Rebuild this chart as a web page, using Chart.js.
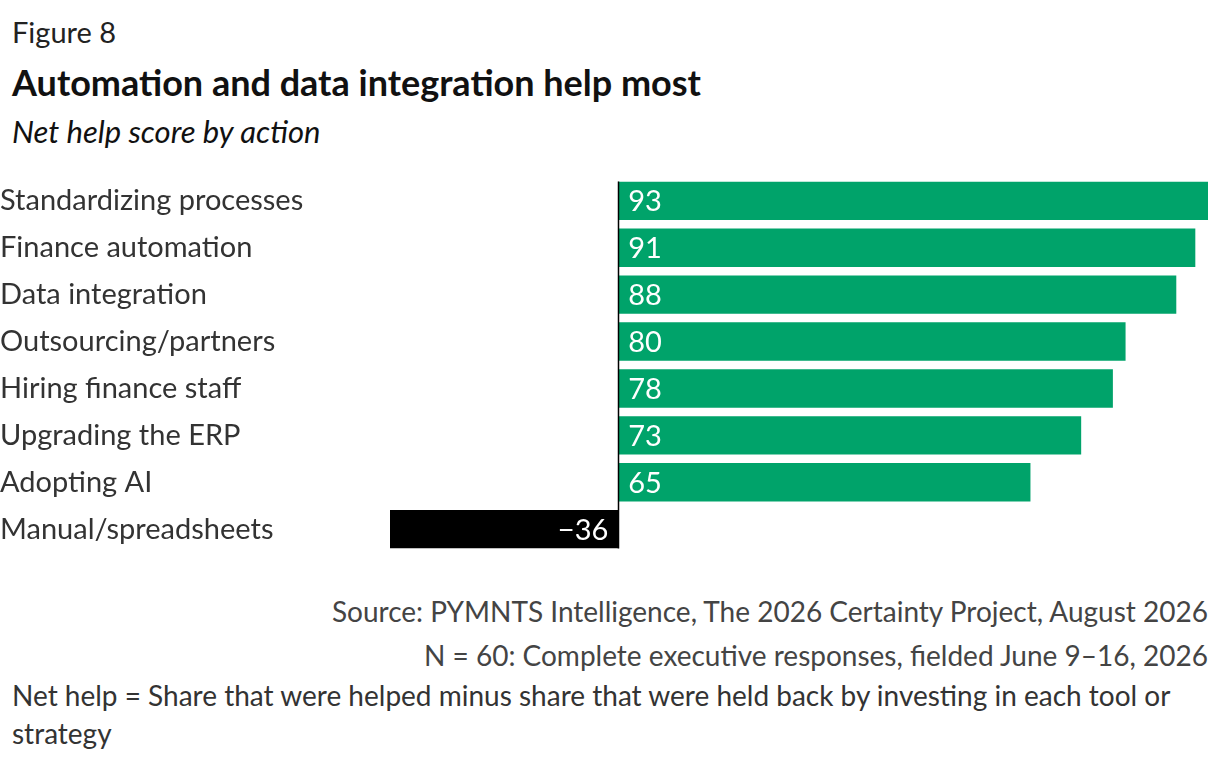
<!DOCTYPE html>
<html>
<head>
<meta charset="utf-8">
<script src="https://cdn.jsdelivr.net/npm/chart.js@4"></script>
<style>
  body { margin: 0; width: 1220px; height: 762px; background: #fff; font-family: Lato, sans-serif; color: #111; position: relative; overflow: hidden; }
  .t { position: absolute; left: 12px; white-space: nowrap; }
  #fig { top: 14px; font-size: 29px; color: #222; }
  #title { top: 60px; font-size: 36px; font-weight: bold; }
  #sub { top: 112px; font-size: 31px; font-style: italic; }
  #chartBox { position: absolute; left: 0; top: 160px; width: 1220px; height: 410px; }
  .r { position: absolute; right: 12px; font-size: 28px; color: #444; white-space: nowrap; }
  .n { position: absolute; left: 12px; font-size: 28px; color: #333; line-height: 38px; width: 1180px; }
</style>
</head>
<body>
<div class="t" id="fig">Figure 8</div>
<div class="t" id="title">Automation and data integration help most</div>
<div class="t" id="sub">Net help score by action</div>
<div id="chartBox"><canvas id="chart"></canvas></div>
<div class="r" style="top:594px">Source: PYMNTS Intelligence, The 2026 Certainty Project, August 2026</div>
<div class="r" style="top:638px">N = 60: Complete executive responses, fielded June 9–16, 2026</div>
<div class="n" style="top:676px">Net help = Share that were helped minus share that were held back by investing in each tool or strategy</div>

<script>
const categories = ['Standardizing processes', 'Finance automation', 'Data integration', 'Outsourcing/partners',
  'Hiring finance staff', 'Upgrading the ERP', 'Adopting AI', 'Manual/spreadsheets'];
const netHelp = [93, 91, 88, 80, 78, 73, 65, -36];

const zeroLine = {
  id: 'zeroLine',
  afterDatasetsDraw(chart) {
    const { ctx, chartArea, scales } = chart;
    const x = Math.round(scales.x.getPixelForValue(0)) + 0.5;
    ctx.save();
    ctx.strokeStyle = '#000';
    ctx.lineWidth = 1.5;
    ctx.beginPath();
    ctx.moveTo(x, chartArea.top + 4);
    ctx.lineTo(x, chartArea.bottom - 4);
    ctx.stroke();
    ctx.restore();
  }
};

const valueLabels = {
  id: 'valueLabels',
  afterDatasetsDraw(chart) {
    const { ctx } = chart;
    const meta = chart.getDatasetMeta(0);
    ctx.save();
    ctx.font = '29px Lato';
    ctx.fillStyle = '#fff';
    ctx.textBaseline = 'middle';
    meta.data.forEach((bar, i) => {
      const v = netHelp[i];
      const txt = v < 0 ? '\u2212' + Math.abs(v) : String(v);
      if (v >= 0) { ctx.textAlign = 'left'; ctx.fillText(txt, bar.base + 10, bar.y + 1); }
      else { ctx.textAlign = 'right'; ctx.fillText(txt, bar.base - 10, bar.y + 1); }
    });
    ctx.restore();
  }
};

new Chart(document.getElementById('chart'), {
  type: 'bar',
  data: {
    labels: categories,
    datasets: [{
      data: netHelp,
      backgroundColor: netHelp.map(v => v < 0 ? '#000' : '#00A36A'),
      barPercentage: 0.9,
      categoryPercentage: 0.91
    }]
  },
  options: {
    indexAxis: 'y',
    responsive: true,
    maintainAspectRatio: false,
    animation: false,
    layout: { padding: { top: 7, bottom: 11, right: 12, left: 0 } },
    plugins: { legend: { display: false }, tooltip: { enabled: false } },
    scales: {
      x: { display: false, min: -36, max: 93 },
      y: {
        afterFit(scale) { scale.width = 390; },
        grid: { display: false, drawTicks: false },
        border: { display: false },
        ticks: { crossAlign: 'far', padding: 0, color: '#333', font: { family: 'Lato', size: 29 } }
      }
    }
  },
  plugins: [zeroLine, valueLabels]
});
</script>
</body>
</html>
